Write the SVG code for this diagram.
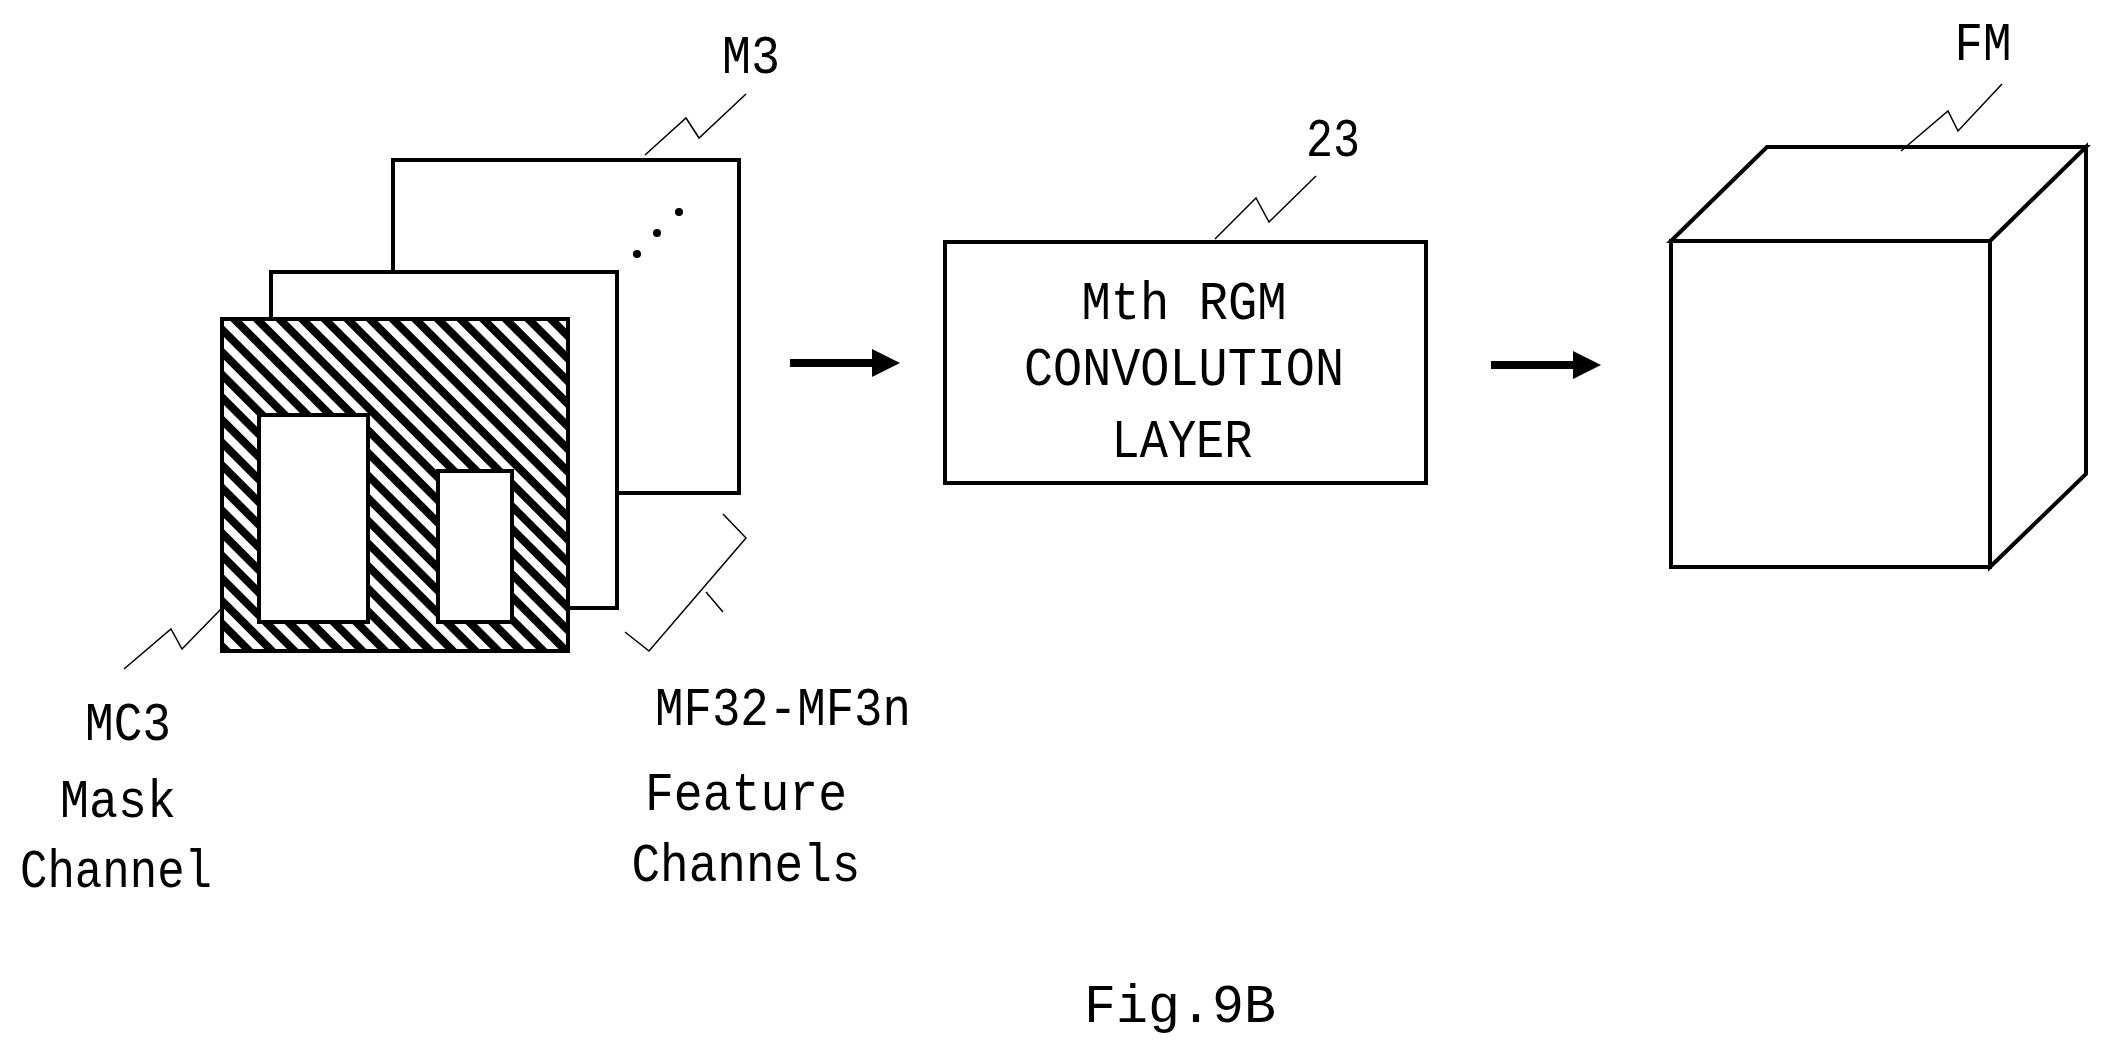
<svg xmlns="http://www.w3.org/2000/svg" width="2109" height="1053" viewBox="0 0 2109 1053">
<style>
.b{fill:#fff;stroke:#000;stroke-width:4}
.l{fill:none;stroke:#000;stroke-width:1.5}
.t{font-family:"Liberation Mono",monospace;font-size:54px;fill:#000;lengthAdjust:spacingAndGlyphs}
</style>
<defs>
<pattern id="h" width="16" height="16" patternUnits="userSpaceOnUse" patternTransform="rotate(-45)">
<rect width="16" height="16" fill="#fff"/><rect width="8" height="16" fill="#000"/>
</pattern>
<marker id="a" markerWidth="3.5" markerHeight="3.5" refX="1" refY="1.75" orient="auto"><path d="M0,0 L3.5,1.75 L0,3.5z" fill="#000"/></marker>
</defs>
<rect width="2109" height="1053" fill="#fff"/>
<g id="M3"><rect class="b" x="393" y="160" width="346" height="333"/>
<circle cx="637" cy="254" r="4"/><circle cx="657" cy="233" r="4"/><circle cx="679" cy="212" r="4"/>
<text class="t" x="751" y="73" text-anchor="middle" textLength="58" lengthAdjust="spacingAndGlyphs">M3</text></g>
<g id="MF"><rect class="b" x="271" y="272" width="346" height="336"/>
<text class="t" x="783" y="725" text-anchor="middle" textLength="256" lengthAdjust="spacingAndGlyphs">MF32-MF3n</text>
<text class="t" x="746" y="810" text-anchor="middle" textLength="202" lengthAdjust="spacingAndGlyphs">Feature</text>
<text class="t" x="746" y="881" text-anchor="middle" textLength="229" lengthAdjust="spacingAndGlyphs">Channels</text></g>
<g id="MC3"><rect x="222" y="319" width="346" height="332" fill="url(#h)" stroke="#000" stroke-width="4"/>
<rect class="b" x="259" y="415" width="109" height="207"/><rect class="b" x="438" y="471" width="74" height="151"/>
<text class="t" x="128" y="740" text-anchor="middle" textLength="86" lengthAdjust="spacingAndGlyphs">MC3</text>
<text class="t" x="118" y="817" text-anchor="middle" textLength="116" lengthAdjust="spacingAndGlyphs">Mask</text>
<text class="t" x="116" y="887" text-anchor="middle" textLength="192" lengthAdjust="spacingAndGlyphs">Channel</text></g>
<g id="n23"><rect class="b" x="945" y="242" width="481" height="241"/>
<text class="t" x="1184" y="319" text-anchor="middle" textLength="205" lengthAdjust="spacingAndGlyphs">Mth RGM</text>
<text class="t" x="1184" y="385" text-anchor="middle" textLength="320" lengthAdjust="spacingAndGlyphs">CONVOLUTION</text>
<text class="t" x="1182" y="457" text-anchor="middle" textLength="141" lengthAdjust="spacingAndGlyphs">LAYER</text>
<text class="t" x="1333" y="156" text-anchor="middle" textLength="54" lengthAdjust="spacingAndGlyphs">23</text></g>
<g id="FM"><path class="b" d="M1671,241 L1767,147 L2086,147 L1990,241z M1990,241 L2086,147 L2086,474 L1990,567z"/>
<rect class="b" x="1671" y="241" width="319" height="326"/>
<text class="t" x="1983" y="60" text-anchor="middle" textLength="57" lengthAdjust="spacingAndGlyphs">FM</text></g>
<g id="connectors" class="l">
<path d="M645,155 L686,118 L699,138 L746,94"/>
<path d="M124,669 L171,629 L182,649 L222,608"/>
<path d="M723,514 L746,538 L649,651 L625,632 M706,592 L723,612"/>
<path d="M1215,239 L1256,198 L1269,222 L1316,176"/>
<path d="M1901,151 L1948,111 L1958,131 L2002,84"/>
<line x1="790" y1="363" x2="880" y2="363" stroke-width="8" marker-end="url(#a)"/>
<line x1="1491" y1="365" x2="1581" y2="365" stroke-width="8" marker-end="url(#a)"/>
</g>
<text class="t" x="1180" y="1022" text-anchor="middle" font-size="68" textLength="192" lengthAdjust="spacingAndGlyphs">Fig.9B</text>
</svg>
